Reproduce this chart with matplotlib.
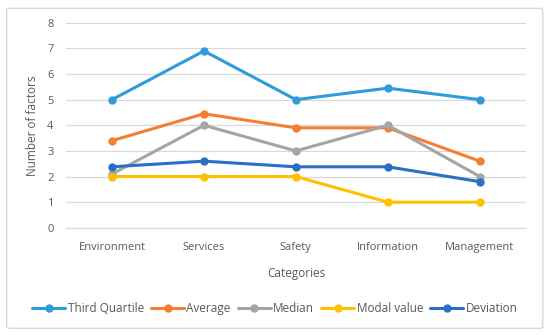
import matplotlib
matplotlib.use("Agg")
import matplotlib.pyplot as plt
from matplotlib.patches import FancyBboxPatch

categories = ["Environment", "Services", "Safety", "Information", "Management"]
third_quartile = [5, 6.9, 5, 5.45, 5]
average = [3.4, 4.45, 3.9, 3.9, 2.6]
median = [2.1, 4, 3, 4, 2]
modal_value = [2, 2, 2, 1, 1]
deviation = [2.38, 2.6, 2.38, 2.38, 1.8]
yticks = [0, 1, 2, 3, 4, 5, 6, 7, 8]

series = [
    ("Third Quartile", third_quartile, "#2E9BDA"),
    ("Average", average, "#F47F30"),
    ("Median", median, "#A5A5A5"),
    ("Modal value", modal_value, "#FFC000"),
    ("Deviation", deviation, "#2A6FC5"),
]

plt.rcParams['font.family'] = ['Open Sans', 'DejaVu Sans']
txt = "#595959"

fig = plt.figure(figsize=(5.5, 3.35), dpi=100)
ax = fig.add_axes([0.12, 0.32, 0.836, 0.612])

x = list(range(len(categories)))
for name, vals, col in series:
    ax.plot(x, vals, color=col, lw=2.2, marker="o", ms=5, label=name,
            solid_capstyle="round", zorder=3)

ax.set_xlim(-0.5, len(categories) - 0.5)
ax.set_ylim(0, 8)
ax.set_yticks(yticks)
ax.set_xticks(x)
ax.set_xticklabels(categories)
ax.tick_params(axis="both", length=0, labelsize=8, colors=txt)
ax.tick_params(axis="x", pad=10)
ax.tick_params(axis="y", pad=9)
ax.grid(axis="y", color="#D9D9D9", lw=0.9)
ax.set_axisbelow(True)
for s in ["top", "right", "left"]:
    ax.spines[s].set_visible(False)
ax.spines["bottom"].set_color("#D9D9D9")
ax.set_xlabel("Categories", fontsize=8.5, color=txt, labelpad=10)
ax.set_ylabel("Number of factors", fontsize=8.5, color=txt, labelpad=6)

leg = fig.legend(loc="center", bbox_to_anchor=(0.5, 0.08), ncol=5, frameon=False,
                 fontsize=8.5, handlelength=2.8, columnspacing=0.6, handletextpad=0.2)
for t in leg.get_texts():
    t.set_color(txt)

border = FancyBboxPatch((0.012, 0.02), 0.975, 0.955, boxstyle="round,pad=0,rounding_size=0.005",
                        transform=fig.transFigure, fill=False, ec="#D9D9D9", lw=1)
fig.patches.append(border)

fig.savefig("out.png", dpi=100)
